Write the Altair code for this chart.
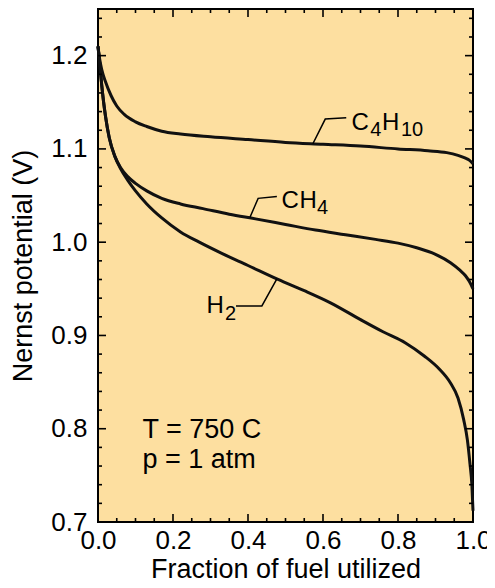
import altair as alt
import pandas as pd

# ---- curve data ----
h2_x = [0.0, 0.005, 0.01, 0.015, 0.02, 0.03, 0.045, 0.06, 0.08, 0.1, 0.13, 0.17, 0.22, 0.27, 0.33,
        0.4, 0.48, 0.55, 0.62, 0.7, 0.76, 0.82, 0.87, 0.91, 0.94, 0.96, 0.975, 0.985, 0.992, 0.997, 1.0]
h2_y = [1.21, 1.19, 1.168, 1.15, 1.135, 1.112, 1.092, 1.079, 1.066, 1.055, 1.041, 1.026, 1.011, 1.000, 0.988,
        0.975, 0.960, 0.948, 0.935, 0.917, 0.904, 0.892, 0.878, 0.864, 0.849, 0.833, 0.81, 0.788, 0.762, 0.74, 0.712]

ch4_x = [0.0, 0.005, 0.01, 0.015, 0.02, 0.03, 0.045, 0.06, 0.08, 0.1, 0.13, 0.17, 0.22, 0.28, 0.35,
         0.42, 0.5, 0.58, 0.66, 0.74, 0.8, 0.85, 0.9, 0.94, 0.965, 0.98, 0.99, 1.0]
ch4_y = [1.21, 1.19, 1.168, 1.15, 1.135, 1.112, 1.092, 1.08, 1.07, 1.063, 1.055, 1.047, 1.041, 1.036, 1.030,
         1.025, 1.019, 1.013, 1.008, 1.003, 0.999, 0.994, 0.987, 0.978, 0.970, 0.964, 0.958, 0.950]

c4h10_x = [0.0, 0.005, 0.01, 0.02, 0.035, 0.05, 0.07, 0.1, 0.13, 0.17, 0.22, 0.3, 0.4, 0.5, 0.6,
           0.7, 0.8, 0.88, 0.93, 0.96, 0.98, 0.99, 1.0]
c4h10_y = [1.21, 1.195, 1.185, 1.172, 1.157, 1.146, 1.137, 1.129, 1.124, 1.119, 1.116, 1.113, 1.110, 1.107, 1.105,
           1.103, 1.100, 1.098, 1.096, 1.093, 1.090, 1.088, 1.084]

# ---- ticks ----
x_major = [0.0, 0.2, 0.4, 0.6, 0.8, 1.0]
x_minor = [0.05, 0.1, 0.15, 0.25, 0.3, 0.35, 0.45, 0.5, 0.55, 0.65, 0.7, 0.75, 0.85, 0.9, 0.95]
y_major = [0.7, 0.8, 0.9, 1.0, 1.1, 1.2]
y_minor = [0.72, 0.74, 0.76, 0.78, 0.82, 0.84, 0.86, 0.88, 0.92, 0.94, 0.96, 0.98,
           1.02, 1.04, 1.06, 1.08, 1.12, 1.14, 1.16, 1.18, 1.22, 1.24]

# ---- annotations ----
label_text = ["C", "4", "H", "10", "C", "H", "4", "H", "2", "T = 750 C", "p = 1 atm"]
label_x = [0.676, 0.726, 0.757, 0.808, 0.489, 0.537, 0.584, 0.289, 0.3385, 0.1185, 0.1185]
label_y = [1.120, 1.114, 1.120, 1.114, 1.0364, 1.0364, 1.030, 0.924, 0.9166, 0.790, 0.758]
label_size = [24, 20, 24, 20, 24, 24, 20, 24, 20, 27, 27]

leader_id = ["c4", "c4", "c4", "ch4", "ch4", "ch4", "h2", "h2", "h2"]
leader_x = [0.573, 0.606, 0.662, 0.405, 0.427, 0.477, 0.477, 0.437, 0.368]
leader_y = [1.1055, 1.132, 1.1335, 1.0265, 1.047, 1.049, 0.9606, 0.9316, 0.9316]

W, H = 375, 513
FONT = "Liberation Sans"
X_TITLE = "Fraction of fuel utilized"
Y_TITLE = "Nernst potential (V)"

curves = pd.concat([
    pd.DataFrame({"series": "H2", "x": h2_x, "y": h2_y}),
    pd.DataFrame({"series": "CH4", "x": ch4_x, "y": ch4_y}),
    pd.DataFrame({"series": "C4H10", "x": c4h10_x, "y": c4h10_y}),
], ignore_index=True)

labels = pd.DataFrame({"t": label_text, "x": label_x, "y": label_y, "s": label_size})
leaders = pd.DataFrame({"id": leader_id, "x": leader_x, "y": leader_y,
                        "o": list(range(len(leader_x)))})

xs = alt.Scale(domain=[0, 1], nice=False, zero=False)
ys = alt.Scale(domain=[0.7, 1.25], nice=False, zero=False)

x_axis = alt.Axis(values=x_major, format=".1f", labelPadding=26, labelBaseline="alphabetic",
                  labelFlush=False, labelOverlap=False, titleY=55, titleBaseline="alphabetic")
y_axis = alt.Axis(values=y_major, format=".1f", labelPadding=11, labelOverlap=False,
                  titleX=-67, titleY=H / 2, titleAngle=270, titleBaseline="alphabetic",
                  titleAlign="center")


def X(field):
    return alt.X(field, scale=xs, axis=x_axis, title=X_TITLE)


def Y(field):
    return alt.Y(field, scale=ys, axis=y_axis, title=Y_TITLE)


lines = alt.Chart(curves).mark_line(interpolate="monotone", color="#111111", strokeWidth=3).encode(
    x=X("x:Q"), y=Y("y:Q"), detail="series:N",
)


def yticks(vals, x0, x1):
    return alt.Chart(pd.DataFrame({"v": vals})).mark_rule(color="black", strokeWidth=1.6).encode(
        y=Y("v:Q"), x=alt.value(x0), x2=alt.value(x1))


def xticks(vals, y0, y1):
    return alt.Chart(pd.DataFrame({"v": vals})).mark_rule(color="black", strokeWidth=1.6).encode(
        x=X("v:Q"), y=alt.value(y0), y2=alt.value(y1))


tick_layers = [
    yticks(y_major, 0, 8), yticks(y_minor, 0, 4),
    yticks(y_major, W - 8, W), yticks(y_minor, W - 4, W),
    xticks(x_major, H - 8, H), xticks(x_minor, H - 4, H),
    xticks(x_major, 0, 8), xticks(x_minor, 0, 4),
]

leader_layer = alt.Chart(leaders).mark_line(color="black", strokeWidth=1.5).encode(
    x=X("x:Q"), y=Y("y:Q"), detail="id:N", order="o:Q",
)

text_layer = alt.Chart(labels).mark_text(align="left", baseline="alphabetic", font=FONT,
                                         color="black").encode(
    x=X("x:Q"), y=Y("y:Q"),
    text="t:N",
    size=alt.Size("s:Q", scale=None, legend=None),
)

chart = alt.layer(lines, *tick_layers, leader_layer, text_layer).properties(
    width=W, height=H,
    padding={"left": 90, "top": 1, "right": 14, "bottom": 58},
    autosize=alt.AutoSizeParams(type="none"),
    background="white",
).configure_view(
    fill="#FDDFA0", stroke="black", strokeWidth=2,
).configure_axis(
    labelFont=FONT, titleFont=FONT, labelColor="black", titleColor="black",
    labelFontSize=26, titleFontSize=27, titleFontWeight="normal",
    domain=False, ticks=False, tickSize=0, grid=False,
)

chart.save("out.html", embed_options={"renderer": "svg", "actions": False})
